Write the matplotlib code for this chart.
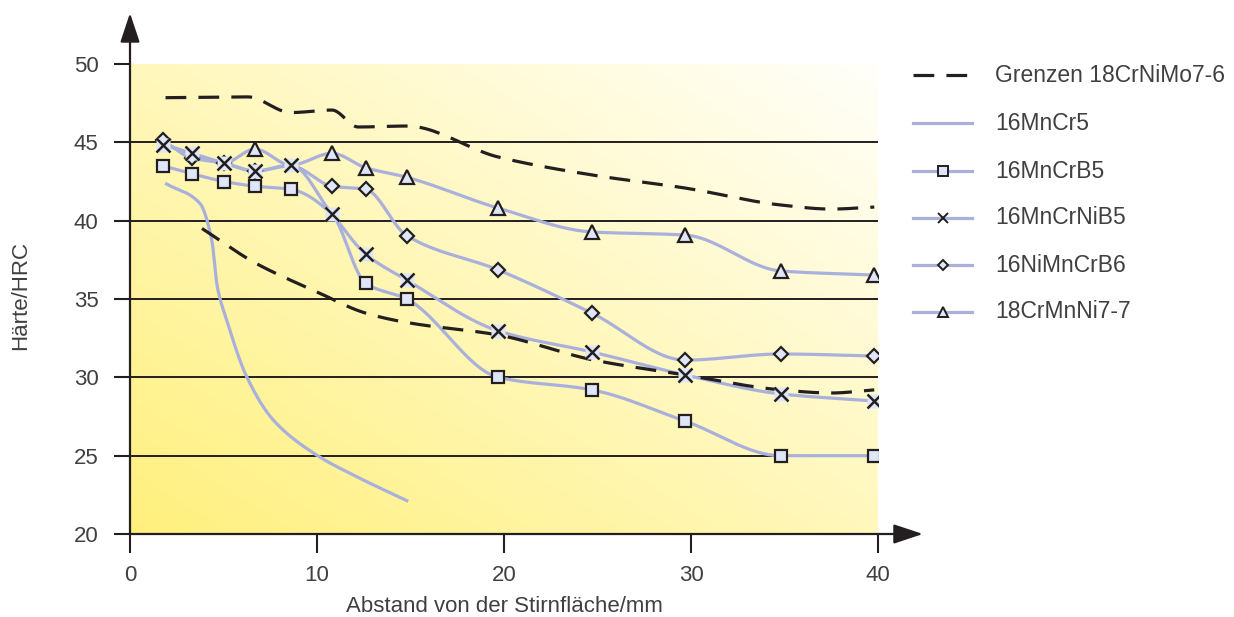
import numpy as np
import matplotlib
matplotlib.use("Agg")
import matplotlib.pyplot as plt
from matplotlib.lines import Line2D
from matplotlib.patches import ArrowStyle

plt.rcParams['font.family'] = ['Liberation Sans', 'DejaVu Sans']

# Jominy distances (mm)
dist = [1.76, 3.3, 5.03, 6.68, 8.6, 10.8, 12.6, 14.8, 19.7, 24.7, 29.7, 34.8, 39.8]

# Hardness (HRC) per steel grade
mncrb5 = [43.5, 43.0, 42.5, 42.2, 42.0, 40.4, 36.0, 35.0, 30.0, 29.2, 27.2, 25.0, 25.0]
mncrnib5 = [44.83, 44.3, 43.68, 43.17, 43.55, 40.43, 37.87, 36.21, 32.96, 31.62, 30.15, 28.94, 28.49]
nimncrb6 = [45.15, 44.0, 43.68, 43.17, 43.5, 42.2, 42.0, 39.04, 36.85, 34.1, 31.1, 31.49, 31.36]
crmnni77 = [44.9, 44.3, 43.68, 44.57, 43.55, 44.3, 43.38, 42.77, 40.8, 39.28, 39.08, 36.79, 36.53]

# Points whose markers are drawn (others lie beneath neighbouring symbols)
marks_mncrb5 = [0, 1, 2, 3, 4, 6, 7, 8, 9, 10, 11, 12]
marks_mncrnib5 = list(range(13))
marks_nimncrb6 = [0, 1, 2, 3, 5, 6, 7, 8, 9, 10, 11, 12]
marks_crmnni77 = [3, 5, 6, 7, 8, 9, 10, 11, 12]

# 16MnCr5 (curve without symbols)
mncr5_x = [1.96, 3.74, 4.37, 4.67, 5.17, 6.24, 7.66, 9.98, 12.12, 14.8]
mncr5_y = [42.34, 41.1, 38.77, 35.78, 33.66, 30.04, 27.28, 25.04, 23.66, 22.13]

# Scatter band limits of 18CrNiMo7-6
upper_x = [1.9, 6.3, 8.6, 10.8, 12.2, 14.8, 19.7, 24.8, 29.7, 34.8, 37.5, 39.8]
upper_y = [47.85, 47.9, 46.9, 47.06, 45.98, 46.04, 44.06, 42.9, 42.08, 41.0, 40.74, 40.87]
lower_x = [3.85, 6.7, 10.0, 12.6, 14.8, 19.7, 24.8, 29.7, 34.8, 37.5, 39.8]
lower_y = [39.5, 37.3, 35.45, 34.1, 33.5, 32.7, 31.1, 30.15, 29.2, 29.0, 29.2]

labels = ["Grenzen 18CrNiMo7-6", "16MnCr5", "16MnCrB5", "16MnCrNiB5",
          "16NiMnCrB6", "18CrMnNi7-7"]

y_ticks = [20, 25, 30, 35, 40, 45, 50]
x_ticks = [0, 10, 20, 30, 40]
grid_levels = [25, 30, 35, 40, 45]

LINE = "#aab0dc"
FACE = "#dfe6f7"
INK = "#231f20"
TXT = "#404040"


def pchip(x, y, n=24):
    """Monotone cubic (Fritsch-Carlson) curve through the given points."""
    x = np.asarray(x, float)
    y = np.asarray(y, float)
    h = np.diff(x)
    d = np.diff(y) / h
    m = np.zeros_like(y)
    for k in range(1, len(x) - 1):
        if d[k - 1] * d[k] > 0:
            w1 = 2 * h[k] + h[k - 1]
            w2 = h[k] + 2 * h[k - 1]
            m[k] = (w1 + w2) / (w1 / d[k - 1] + w2 / d[k])
    m[0] = d[0]
    m[-1] = d[-1]
    xs, ys = [], []
    for k in range(len(x) - 1):
        t = np.linspace(0, 1, n, endpoint=False)
        h00 = 2 * t**3 - 3 * t**2 + 1
        h10 = t**3 - 2 * t**2 + t
        h01 = -2 * t**3 + 3 * t**2
        h11 = t**3 - t**2
        xs.append(x[k] + t * h[k])
        ys.append(h00 * y[k] + h10 * h[k] * m[k] + h01 * y[k + 1] + h11 * h[k] * m[k + 1])
    xs.append([x[-1]])
    ys.append([y[-1]])
    return np.concatenate(xs), np.concatenate(ys)


W, H = 1234, 617
fig = plt.figure(figsize=(W / 100, H / 100), dpi=100)
L, R, T, B = 130, 878, 64, 534
ax = fig.add_axes([L / W, 1 - B / H, (R - L) / W, (B - T) / H])
ax.set_xlim(0, 40)
ax.set_ylim(20, 50)

# diagonal yellow-to-white background
nx, ny = 400, 250
u = np.linspace(0, 1, nx)[None, :]
v = np.linspace(0, 1, ny)[:, None]
t = np.clip((u + v) / 2, 0, 1)
c0 = np.array([255, 240, 125]) / 255
c1 = np.array([255, 255, 250]) / 255
img = c0[None, None, :] * (1 - t[..., None]) + c1[None, None, :] * t[..., None]
ax.imshow(img, origin="lower", extent=(0, 40, 20, 50), aspect="auto", zorder=0,
          interpolation="bilinear")

for s in ax.spines.values():
    s.set_visible(False)

for g in grid_levels:
    ax.plot([0, 40], [g, g], color=INK, lw=1.4, zorder=1)

# limit band
ux, uy = pchip(upper_x, upper_y)
lx, ly = pchip(lower_x, lower_y)
dash = dict(color=INK, lw=2.3, dashes=(6.5, 3.8), zorder=3, solid_capstyle="butt")
ax.plot(ux, uy, **dash)
ax.plot(lx, ly, **dash)

# curves
cx, cy = pchip(mncr5_x, mncr5_y)
ax.plot(cx, cy, color=LINE, lw=2.3, zorder=2)
series = [(mncrb5, marks_mncrb5, "s"), (mncrnib5, marks_mncrnib5, "x"),
          (nimncrb6, marks_nimncrb6, "D"), (crmnni77, marks_crmnni77, "^")]
for vals, _, _ in series:
    sx, sy = pchip(dist, vals)
    ax.plot(sx, sy, color=LINE, lw=2.3, zorder=2)

px = np.asarray(dist)
for vals, idx, mk in series:
    vx = px[idx]
    vy = np.asarray(vals)[idx]
    if mk == "s":
        ax.plot(vx, vy, ls="none", marker="s", ms=9, mfc=FACE, mec=INK, mew=1.6, zorder=5)
    elif mk == "x":
        ax.plot(vx, vy, ls="none", marker="s", ms=10, mfc=FACE, mec="none", zorder=5)
        ax.plot(vx, vy, ls="none", marker="x", ms=10, mec=INK, mew=1.8, zorder=6)
    elif mk == "D":
        ax.plot(vx, vy, ls="none", marker="D", ms=7, mfc=FACE, mec=INK, mew=1.6, zorder=4)
    else:
        ax.plot(vx, vy, ls="none", marker="^", ms=10, mfc=FACE, mec=INK, mew=1.6, zorder=4)

# axes with arrow heads
arrow = ArrowStyle("-|>", head_length=1.8, head_width=0.6)
ax.annotate("", xy=(0, 53.25), xytext=(0, 19.95), xycoords="data",
            arrowprops=dict(arrowstyle=arrow, mutation_scale=10, lw=1.6,
                            color=INK, shrinkA=0, shrinkB=0), annotation_clip=False)
ax.annotate("", xy=(42.4, 20), xytext=(-0.05, 20), xycoords="data",
            arrowprops=dict(arrowstyle=arrow, mutation_scale=10, lw=1.6,
                            color=INK, shrinkA=0, shrinkB=0), annotation_clip=False)

ax.set_xticks(x_ticks)
ax.set_yticks(y_ticks)
ax.tick_params(axis="y", length=11.5, width=1.5, color=INK, pad=11,
               labelsize=16, labelcolor=TXT)
ax.tick_params(axis="x", length=14, width=1.5, color=INK, pad=8,
               labelsize=16, labelcolor=TXT)

fig.text(21 / W, 1 - 296 / H, "Härte/HRC", rotation=90, ha="center", va="center",
         fontsize=16, color=TXT)
fig.text(504 / W, 1 - 606 / H, "Abstand von der Stirnfläche/mm", ha="center",
         va="center", fontsize=16, color=TXT)

# legend
rows = [75, 123, 171, 218, 265, 312]
hx0, hx1, mx, tx = 913, 972, 943, 995
for i, (lab, y) in enumerate(zip(labels, rows)):
    fy = 1 - y / H
    if i == 0:
        fig.add_artist(Line2D([hx0 / W, hx1 / W], [fy, fy], color=INK, lw=2.3,
                              dashes=(6.5, 3.8), solid_capstyle="butt"))
    else:
        fig.add_artist(Line2D([hx0 / W, hx1 / W], [fy, fy], color=LINE, lw=2.3))
        mk = {2: "s", 3: "x", 4: "D", 5: "^"}.get(i)
        if mk:
            size = {"s": 7, "x": 7, "D": 5, "^": 7}[mk]
            fig.add_artist(Line2D([mx / W], [fy], ls="none", marker=mk, ms=size,
                                  mfc=FACE, mec=INK, mew=1.4))
    fig.text(tx / W, fy, lab, ha="left", va="center", fontsize=16.5, color=TXT)

fig.savefig("out.png", dpi=100)
